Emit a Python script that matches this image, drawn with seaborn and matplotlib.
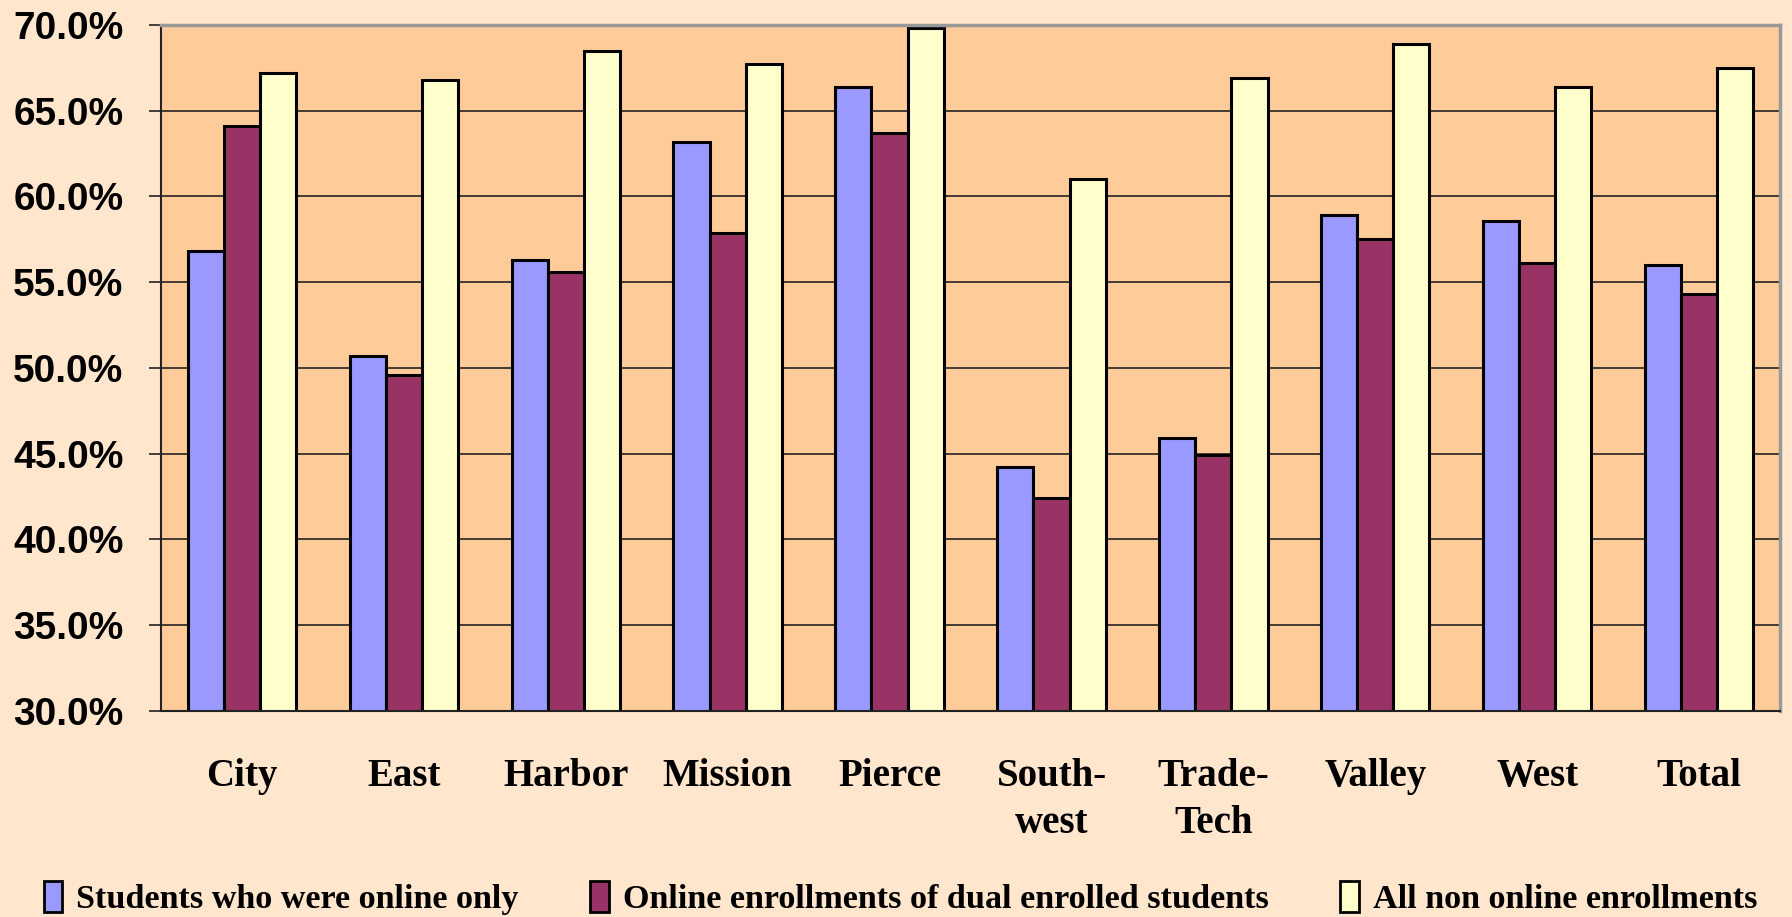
import pandas as pd
import matplotlib
matplotlib.use('Agg')
import matplotlib.pyplot as plt
import matplotlib.patches as patches
import seaborn as sns

# Datos
categorias = ['City', 'East', 'Harbor', 'Mission', 'Pierce', 'South-\nwest',
              'Trade-\nTech', 'Valley', 'West', 'Total']
series = ['Students who were online only',
          'Online enrollments of dual enrolled students',
          'All non online enrollments']
online_only = [56.8, 50.7, 56.3, 63.2, 66.4, 44.2, 45.9, 58.9, 58.6, 56.0]
dual_enrolled = [64.1, 49.6, 55.6, 57.9, 63.7, 42.4, 44.9, 57.5, 56.1, 54.3]
non_online = [67.2, 66.8, 68.5, 67.7, 69.8, 61.0, 66.9, 68.9, 66.4, 67.5]
colores = ['#9999FF', '#993366', '#FFFFCC']

df = pd.DataFrame({
    'categoria': categorias * 3,
    'serie': [series[0]] * 10 + [series[1]] * 10 + [series[2]] * 10,
    'valor': online_only + dual_enrolled + non_online,
})

sns.set_style('white')
plt.rcParams['font.family'] = ['Liberation Sans', 'DejaVu Sans']
plt.rcParams['text.color'] = 'black'
plt.rcParams['xtick.labelcolor'] = 'black'
plt.rcParams['ytick.labelcolor'] = 'black'

fig = plt.figure(figsize=(17.92, 9.17), dpi=100, facecolor='#FFE6CC')
ax = fig.add_axes([161 / 1792, 1 - 711 / 917, (1780 - 161) / 1792, (711 - 25) / 917])
ax.set_facecolor('#FFCC99')

sns.barplot(data=df, x='categoria', y='valor', hue='serie', palette=colores,
            width=0.67, gap=0, edgecolor='black', linewidth=2.2, saturation=1,
            ax=ax, legend=False)

ax.set_ylim(30, 70)
ax.set_xlim(-0.5, 9.5)
ax.set_yticks(range(30, 71, 5))
ax.set_yticklabels([f'{v:.1f}%' for v in range(30, 71, 5)],
                   fontsize=28, fontweight='bold', family='Liberation Sans', color='black')
ax.set_axisbelow(True)
ax.yaxis.grid(True, color='#222222', linewidth=1.2)
ax.set_xlabel('')
ax.set_ylabel('')

# Etiquetas en el centro, marcas en los limites
ax.set_xticks(range(10))
ax.set_xticklabels(categorias, fontsize=28, fontweight='bold', family='Liberation Serif',
                   linespacing=1.35, color='black')
ax.set_xticks([k + 0.5 for k in range(-1, 10)], minor=True)
ax.tick_params(axis='x', which='major', length=0, pad=34)
ax.tick_params(axis='x', which='minor', length=10, width=1.2, color='#222222', direction='out')
ax.tick_params(axis='y', length=9, width=1.2, color='#222222', direction='out', pad=18, left=True)

for lado in ['left', 'bottom']:
    ax.spines[lado].set_color('#222222')
    ax.spines[lado].set_linewidth(1.5)
for lado in ['top', 'right']:
    ax.spines[lado].set_color('#999999')
    ax.spines[lado].set_linewidth(2.5)

# Leyenda
manijas = [patches.Patch(facecolor=c, edgecolor='black', linewidth=2) for c in colores]
fig.legend(manijas, series, loc='center', bbox_to_anchor=(0.5025, 1 - 898 / 917), ncol=3,
           frameon=False, handlelength=0.55, handleheight=1.0, handletextpad=0.4,
           columnspacing=2.1, labelcolor='black',
           prop={'family': 'Liberation Serif', 'weight': 'bold', 'size': 24.6})

fig.savefig('out.png', dpi=100, facecolor=fig.get_facecolor())
